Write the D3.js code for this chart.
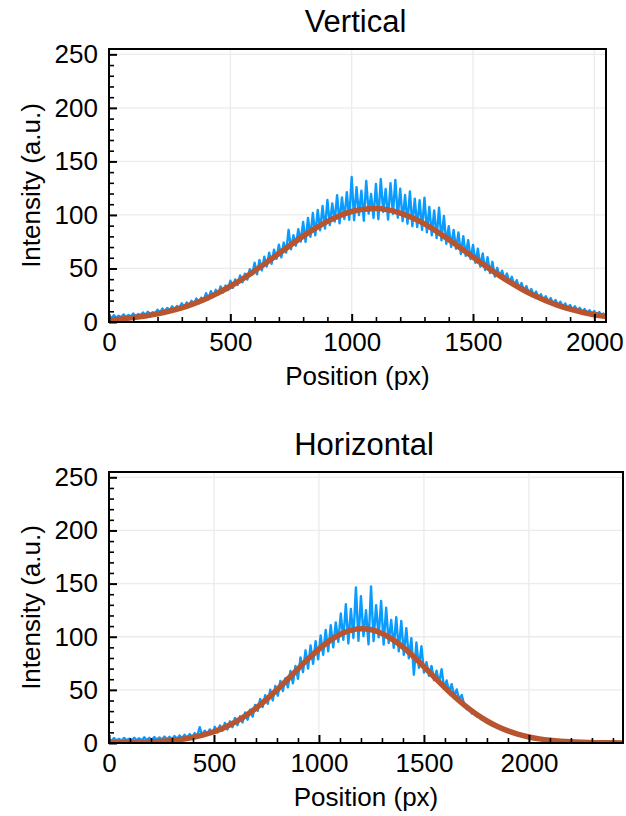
<!DOCTYPE html>
<html>
<head>
<meta charset="utf-8">
<script src="https://cdn.jsdelivr.net/npm/d3@7"></script>
<style>
body { margin: 0; background: #fff; }
svg text { font-family: 'Liberation Sans', Arial, sans-serif; fill: #000; }
</style>
</head>
<body>
<div class="profile-wrapper"></div>
<script>
// vertical profile, one sample every 10 px
const vertStep = 10
const vertSignal = [
5.9, 3.6, 6.4, 3.9, 5.8, 4.4, 7.1, 4.6, 6.5, 5.1, 8.0, 5.5, 7.4, 6.2, 8.9, 6.5, 9.6, 7.3, 9.1, 8.2,
11.4, 8.9, 12.6, 9.8, 13.1, 10.9, 14.7, 11.8, 15.0, 13.2, 17.4, 13.6, 18.3, 15.1, 19.8, 16.4, 21.9, 17.6, 22.7, 19.5,
26.9, 21.3, 28.8, 23.4, 30.1, 25.9, 33.2, 27.6, 34.0, 29.8, 38.6, 31.9, 39.8, 34.6, 43.5, 37.1, 45.2, 39.6, 49.3, 44.1,
55.4, 44.6, 57.9, 48.2, 61.0, 51.9, 64.8, 54.3, 67.5, 58.9, 72.3, 60.4, 74.2, 64.8, 86.1, 67.9, 81.0, 71.3, 86.7, 75.2,
93.5, 74.8, 97.2, 79.6, 101.8, 80.9, 104.6, 85.7, 108.3, 87.2, 113.9, 90.5, 110.7, 93.8, 118.5, 92.1, 116.4, 96.2, 121.3, 95.4,
135.4, 95.1, 126.0, 99.8, 122.7, 94.6, 131.8, 101.3, 119.5, 97.2, 128.9, 96.0, 133.5, 102.8, 124.2, 95.7, 129.6, 100.9, 132.7, 97.4,
124.4, 94.1, 118.6, 91.8, 121.9, 89.5, 115.2, 88.6, 113.8, 86.0, 116.1, 83.7, 107.5, 80.9, 104.3, 78.4, 106.8, 76.2, 99.1, 73.0,
89.4, 70.1, 86.0, 68.3, 83.7, 63.4, 80.2, 61.9, 76.5, 58.7, 72.0, 55.2, 68.4, 51.8, 64.1, 48.6, 60.5, 45.7, 56.2, 42.4,
50.6, 42.5, 47.9, 39.8, 45.3, 36.7, 42.2, 34.0, 39.1, 31.6, 36.4, 29.2, 33.5, 27.0, 30.8, 24.6, 28.4, 22.7, 26.0, 20.1,
24.1, 18.8, 22.3, 17.2, 20.6, 15.4, 19.0, 14.2, 17.3, 12.8, 15.9, 11.5, 14.7, 10.6, 13.2, 9.3, 12.1, 8.4, 11.0, 7.6,
10.2, 6.7, 9.4, 6.0, 8.6
]
const vertFitStep = 50
const vertFit = [
2.05, 2.92, 4.09, 5.63, 7.63, 10.2, 13.3, 17.2, 21.8, 27.2, 33.4, 40.2, 47.8, 55.7, 64.0, 72.2, 80.2, 87.5, 94.0, 99.3,
103.2, 105.4, 106.0, 104.7, 101.8, 97.4, 91.6, 84.7, 77.0, 68.9, 60.7, 52.5, 44.7, 37.4, 30.8, 24.9, 19.9, 15.6, 12.0, 9.1,
6.8, 5.0
]

// horizontal profile, one sample every 12 px
const horizStep = 12
const horizSignal = [
4.2, 1.9, 4.6, 2.3, 3.9, 2.0, 4.8, 2.5, 4.1, 2.2, 5.0, 2.6, 4.4, 2.4, 5.3, 2.8, 4.9, 2.7, 5.6, 3.1, 5.2, 3.0, 6.0, 3.4, 5.8,
3.6, 6.5, 3.9, 7.1, 4.5, 7.8, 5.0, 8.4, 5.6, 9.3, 6.2, 14.9, 7.0, 11.6, 7.9, 12.8, 8.8,
15.2, 9.8, 16.5, 11.4, 18.9, 12.7, 20.4, 14.9, 23.6, 16.8, 25.1, 19.3, 28.7, 21.9, 31.4, 24.8, 35.9,
30.2, 41.5, 33.8, 45.0, 36.9, 50.2, 40.1, 53.7, 44.5, 58.3, 48.9, 61.0, 52.4, 67.8, 56.1, 72.5,
60.4, 80.6, 66.8, 87.2, 70.1, 91.9, 74.5, 95.8, 78.7, 101.3, 82.9, 106.4, 86.2, 110.8, 90.0, 113.5,
95.2, 121.8, 97.0, 130.5, 93.6, 126.1, 98.8, 146.4, 96.1, 138.2, 100.5, 124.9, 92.8, 147.3, 95.9, 129.7, 99.4, 133.6,
92.6, 127.2, 94.1, 115.8, 89.5, 118.4, 86.2, 114.9, 83.0, 108.1, 79.6, 98.7, 64.2, 94.5, 70.8, 91.0, 66.3,
76.0, 63.2, 72.4, 59.1, 68.0, 56.2, 69.5, 51.7, 58.8, 47.9, 55.3, 44.2, 50.4, 40.8, 45.1, 35.9,
31.9, 32.2, 27.8, 29.6, 25.0, 26.3, 21.8, 23.5, 19.4, 20.7, 16.8, 17.9, 14.6, 15.2, 12.4, 13.0, 10.6,
10.9, 8.7, 9.6, 7.4, 8.0, 6.2, 6.9, 5.1, 5.6, 4.2, 4.7, 3.3, 3.8, 2.7, 3.0, 2.1, 2.5,
2.0, 2.2, 1.6, 1.9, 1.3, 1.6, 1.1, 1.3, 0.9, 1.1, 0.8, 1.0, 0.7, 0.9, 0.6, 0.8, 0.6, 0.7, 0.5, 0.7,
0.5, 0.6, 0.4, 0.6, 0.4, 0.5, 0.4, 0.5, 0.4
]
const horizFitStep = 50
const horizFit = [
0.12, 0.22, 0.37, 0.61, 0.98, 1.55, 2.38, 3.59, 5.28, 7.59, 10.6, 14.6, 19.6, 25.6, 32.8, 41.0, 50.1, 59.8, 69.7, 79.4,
88.4, 96.1, 102.1, 106.0, 107.5, 106.5, 103.1, 97.5, 90.1, 81.3, 71.7, 61.8, 52.0, 42.8, 34.4, 27.0, 20.7, 15.5, 11.4, 8.14,
5.69, 3.88, 2.59, 1.69, 1.08, 0.67, 0.41, 0.24, 0.14, 0.08
]

const titles = ['Vertical', 'Horizontal']
const xMaxes = [2048, 2448]
const yMax = 255
const xTicks = [0, 500, 1000, 1500, 2000]
const yTicks = [0, 50, 100, 150, 200, 250]
const xLabel = 'Position (px)'
const yLabel = 'Intensity (a.u.)'

const signalColor = '#0a9bff'
const fitColor = '#b8552f'
const fontSize = 26

const svg = d3.select('.profile-wrapper')
.append('svg')
.attr('width', 626)
.attr('height', 816)

const panels = [
	{title: titles[0], signal: vertSignal, step: vertStep, fit: vertFit, fitStep: vertFitStep, xMax: xMaxes[0], left: 109, right: 606, top: 49, bottom: 322},
	{title: titles[1], signal: horizSignal, step: horizStep, fit: horizFit, fitStep: horizFitStep, xMax: xMaxes[1], left: 109, right: 623, top: 472, bottom: 743}
]

const drawPanel = (p, i) => {

	let x = d3.scaleLinear().domain([0, p.xMax]).range([p.left, p.right])
	let y = d3.scaleLinear().domain([0, yMax]).range([p.bottom, p.top])

	const g = svg.append('g')

	// grid
	g.append('g')
	.selectAll('line')
	.data(xTicks.filter(t => t > 0 && t < p.xMax))
	.enter()
	.append('line')
	.attr('x1', d => x(d))
	.attr('x2', d => x(d))
	.attr('y1', p.top)
	.attr('y2', p.bottom)
	.attr('stroke', '#ebebeb')
	.attr('stroke-width', 1.3)

	g.append('g')
	.selectAll('line')
	.data(yTicks.filter(t => t > 0))
	.enter()
	.append('line')
	.attr('x1', p.left)
	.attr('x2', p.right)
	.attr('y1', d => y(d))
	.attr('y2', d => y(d))
	.attr('stroke', '#ebebeb')
	.attr('stroke-width', 1.3)

	svg.append('clipPath')
	.attr('id', 'clip' + i)
	.append('rect')
	.attr('x', p.left)
	.attr('y', p.top)
	.attr('width', p.right - p.left)
	.attr('height', p.bottom - p.top)

	const signalLine = d3.line()
	.x((d, j) => x(j * p.step))
	.y(d => y(d))

	const fitLine = d3.line()
	.curve(d3.curveMonotoneX)
	.x((d, j) => x(j * p.fitStep))
	.y(d => y(d))

	g.append('path')
	.datum(p.signal)
	.attr('d', signalLine)
	.attr('fill', 'none')
	.attr('stroke', signalColor)
	.attr('stroke-width', 2.4)
	.attr('stroke-linejoin', 'round')
	.attr('clip-path', 'url(#clip' + i + ')')

	g.append('path')
	.datum(p.fit)
	.attr('d', fitLine)
	.attr('fill', 'none')
	.attr('stroke', fitColor)
	.attr('stroke-width', 5.5)
	.attr('stroke-linecap', 'round')
	.attr('clip-path', 'url(#clip' + i + ')')

	// minor ticks, pointing inward
	const xMinor = d3.range(0, p.xMax + 1, 100).filter(v => v % 500 != 0)
	const yMinor = d3.range(0, yMax + 1, 10).filter(v => v % 50 != 0)

	g.append('g')
	.attr('transform', `translate(0,${p.bottom})`)
	.call(d3.axisBottom(x).tickValues(xMinor).tickSize(-5).tickFormat(''))
	.call(a => a.select('.domain').remove())
	.selectAll('.tick line').attr('stroke-width', 1.6)

	g.append('g')
	.attr('transform', `translate(${p.left},0)`)
	.call(d3.axisLeft(y).tickValues(yMinor).tickSize(-5).tickFormat(''))
	.call(a => a.select('.domain').remove())
	.selectAll('.tick line').attr('stroke-width', 1.6)

	// major ticks + labels
	const xAxis = g.append('g')
	.attr('transform', `translate(0,${p.bottom})`)
	.call(d3.axisBottom(x).tickValues(xTicks).tickSize(-8).tickPadding(11).tickFormat(d3.format('d')))
	.attr('font-size', fontSize)
	.attr('font-family', null)
	xAxis.select('.domain').remove()
	xAxis.selectAll('.tick line').attr('stroke-width', 2)

	const yAxis = g.append('g')
	.attr('transform', `translate(${p.left},0)`)
	.call(d3.axisLeft(y).tickValues(yTicks).tickSize(-8).tickPadding(11).tickFormat(d3.format('d')))
	.attr('font-size', fontSize)
	.attr('font-family', null)
	yAxis.select('.domain').remove()
	yAxis.selectAll('.tick line').attr('stroke-width', 2)

	// frame
	g.append('rect')
	.attr('x', p.left)
	.attr('y', p.top)
	.attr('width', p.right - p.left)
	.attr('height', p.bottom - p.top)
	.attr('fill', 'none')
	.attr('stroke', '#000')
	.attr('stroke-width', 2)

	g.append('text')
	.attr('x', (p.left + p.right) / 2 - 2)
	.attr('y', p.top - 17)
	.attr('text-anchor', 'middle')
	.attr('font-size', 31)
	.text(p.title)

	g.append('text')
	.attr('x', (p.left + p.right) / 2)
	.attr('y', p.bottom + 63)
	.attr('text-anchor', 'middle')
	.attr('font-size', fontSize)
	.text(xLabel)

	g.append('text')
	.attr('transform', `translate(40,${(p.top + p.bottom) / 2}) rotate(-90)`)
	.attr('text-anchor', 'middle')
	.attr('font-size', fontSize)
	.text(yLabel)
}

panels.forEach((p, i) => drawPanel(p, i))
</script>
</body>
</html>
